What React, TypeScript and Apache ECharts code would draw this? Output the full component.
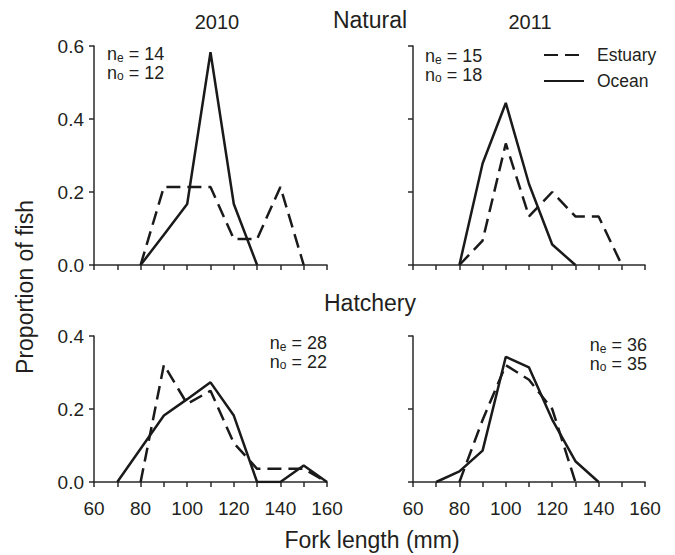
import React, { useEffect, useRef } from "react";
import * as echarts from "echarts";

// Fork length bins (mm) and proportions of fish
const nat2010EstuaryLengths = [80, 90, 100, 110, 120, 130, 140, 150];
const nat2010Estuary = [0, 0.214, 0.214, 0.214, 0.071, 0.071, 0.214, 0];
const nat2010OceanLengths = [80, 90, 100, 110, 120, 130];
const nat2010Ocean = [0, 0.083, 0.167, 0.583, 0.167, 0];

const nat2011EstuaryLengths = [80, 90, 100, 110, 120, 130, 140, 150];
const nat2011Estuary = [0, 0.067, 0.333, 0.133, 0.2, 0.133, 0.133, 0];
const nat2011OceanLengths = [80, 90, 100, 110, 120, 130];
const nat2011Ocean = [0, 0.278, 0.444, 0.222, 0.056, 0];

const hat2010EstuaryLengths = [80, 90, 100, 110, 120, 130, 140, 150, 160];
const hat2010Estuary = [0, 0.321, 0.214, 0.25, 0.107, 0.036, 0.036, 0.036, 0];
const hat2010OceanLengths = [70, 80, 90, 100, 110, 120, 130, 140, 150, 160];
const hat2010Ocean = [0, 0.091, 0.182, 0.227, 0.273, 0.182, 0, 0, 0.045, 0];

const hat2011EstuaryLengths = [80, 90, 100, 110, 120, 130];
const hat2011Estuary = [0, 0.17, 0.32, 0.28, 0.2, 0];
const hat2011OceanLengths = [70, 80, 90, 100, 110, 120, 130, 140];
const hat2011Ocean = [0, 0.029, 0.086, 0.343, 0.314, 0.171, 0.057, 0];

const sampleSizes = [
  ["14", "12"],
  ["15", "18"],
  ["28", "22"],
  ["36", "35"],
];

const yMaxes = [0.6, 0.6, 0.4, 0.4];
const yearLabels = ["2010", "2011"];
const originLabels = ["Natural", "Hatchery"];

const FONT = "'Liberation Sans', Arial, Helvetica, sans-serif";
const TXT = "#231f20";
const AX = "#2a2a2a";
const LINE = "#1a1a1a";

const pairs = (xs: number[], ys: number[]) => xs.map((x, i) => [x, ys[i]]);

function nText(x: number, y: number, sizes: string[], align: string) {
  return {
    type: "text",
    x,
    y,
    style: {
      text: `{n|n}{s|e}{n| = ${sizes[0]}}\n{n|n}{s|o}{n| = ${sizes[1]}}`,
      align,
      verticalAlign: "top",
      fill: TXT,
      rich: {
        n: { fontSize: 18, fontFamily: FONT, lineHeight: 15, verticalAlign: "top", fill: TXT, align },
        s: { fontSize: 12, fontFamily: FONT, lineHeight: 18.5, verticalAlign: "bottom", fill: TXT, align },
      },
    },
  };
}

export default function App() {
  const ref = useRef<HTMLDivElement>(null);
  useEffect(() => {
    if (!ref.current) return;
    const chart = echarts.init(ref.current, null, { renderer: "svg" });

    const grids = [
      { left: 94, top: 46, width: 233, height: 219 },
      { left: 413, top: 46, width: 232, height: 219 },
      { left: 94, top: 336, width: 233, height: 146 },
      { left: 413, top: 336, width: 232, height: 146 },
    ];

    const xAxis = grids.map((_, i) => ({
      type: "value",
      gridIndex: i,
      min: 60,
      max: 160,
      interval: 10,
      axisLine: { onZero: false, lineStyle: { color: AX, width: 1.5 } },
      axisTick: { length: 5, lineStyle: { color: AX, width: 1.5 } },
      splitLine: { show: false },
      axisLabel: {
        show: i >= 2,
        margin: 17,
        fontSize: 19,
        fontFamily: FONT,
        color: TXT,
        formatter: (v: number) => (v % 20 === 0 ? String(v) : ""),
      },
    }));

    const yAxis = grids.map((_, i) => ({
      type: "value",
      gridIndex: i,
      min: 0,
      max: yMaxes[i],
      interval: 0.2,
      axisLine: { show: true, lineStyle: { color: AX, width: 1.5 } },
      axisTick: { show: true, length: 5, lineStyle: { color: AX, width: 1.5 } },
      splitLine: { show: false },
      axisLabel: {
        show: i % 2 === 0,
        margin: 10,
        fontSize: 19,
        fontFamily: FONT,
        color: TXT,
        formatter: (v: number) => v.toFixed(1),
      },
    }));

    const dashed = { color: LINE, width: 2.5, type: [14, 7] };
    const solid = { color: LINE, width: 2.5, type: "solid" };
    const mk = (name: string, idx: number, data: number[][], ls: any) => ({
      name,
      type: "line",
      xAxisIndex: idx,
      yAxisIndex: idx,
      data,
      symbol: "none",
      lineStyle: ls,
      itemStyle: { color: LINE },
      silent: true,
    });

    const series = [
      mk("Estuary", 0, pairs(nat2010EstuaryLengths, nat2010Estuary), dashed),
      mk("Ocean", 0, pairs(nat2010OceanLengths, nat2010Ocean), solid),
      mk("Estuary", 1, pairs(nat2011EstuaryLengths, nat2011Estuary), dashed),
      mk("Ocean", 1, pairs(nat2011OceanLengths, nat2011Ocean), solid),
      mk("Estuary", 2, pairs(hat2010EstuaryLengths, hat2010Estuary), dashed),
      mk("Ocean", 2, pairs(hat2010OceanLengths, hat2010Ocean), solid),
      mk("Estuary", 3, pairs(hat2011EstuaryLengths, hat2011Estuary), dashed),
      mk("Ocean", 3, pairs(hat2011OceanLengths, hat2011Ocean), solid),
    ];

    const title = (text: string, x: number, y: number, size: number, rot = 0) => ({
      type: "text",
      x,
      y,
      rotation: rot,
      style: {
        text,
        fontSize: size,
        fontFamily: FONT,
        fill: TXT,
        align: "center",
        verticalAlign: "middle",
      },
    });

    const graphic = [
      title(yearLabels[0], 217, 22, 20),
      title(originLabels[0], 370, 20, 23),
      title(yearLabels[1], 530, 22, 20),
      title(originLabels[1], 370, 303, 23),
      title("Fork length (mm)", 372, 540, 23),
      title("Proportion of fish", 25, 287, 23, Math.PI / 2),
      nText(107, 45, sampleSizes[0], "left"),
      nText(425, 47, sampleSizes[1], "left"),
      nText(327, 334, sampleSizes[2], "right"),
      nText(647, 336, sampleSizes[3], "right"),
    ];

    chart.setOption({
      animation: false,
      backgroundColor: "#ffffff",
      textStyle: { fontFamily: FONT },
      grid: grids,
      xAxis,
      yAxis,
      series,
      legend: {
        data: ["Estuary", "Ocean"],
        orient: "vertical",
        left: 543,
        top: 46,
        padding: 0,
        itemWidth: 40,
        itemHeight: 16,
        itemGap: 8,
        itemStyle: { opacity: 0 },
        selectedMode: false,
        textStyle: { fontSize: 17.5, fontFamily: FONT, color: TXT, padding: [0, 0, 0, 8] },
      },
      graphic,
    });
    return () => chart.dispose();
  }, []);
  return (
    <div
      ref={ref}
      style={{ position: "absolute", left: 0, top: 0, width: 675, height: 555, background: "#fff" }}
    />
  );
}
